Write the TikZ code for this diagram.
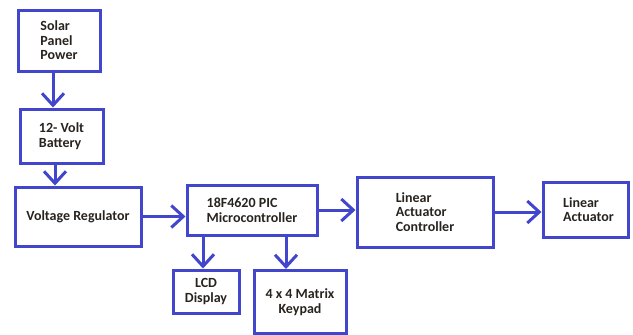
\documentclass[tikz,border=0pt]{standalone}
\usepackage{fontspec}
\setmainfont{Carlito}
\usetikzlibrary{arrows.meta}
\definecolor{boxblue}{RGB}{66,70,205}
\definecolor{txt}{RGB}{40,35,30}
\tikzset{
  blk/.style={draw=boxblue, line width=3pt, rectangle, inner sep=0pt,
    font=\fontsize{14}{14.5}\selectfont\bfseries, text=txt, align=left},
  arr/.style={draw=boxblue, line width=3pt, -{Straight Barb[length=12pt,width=22pt]}}
}
\begin{document}
\begin{tikzpicture}[x=1pt,y=-1pt]
\useasboundingbox (0,0) rectangle (633,335);
\node[blk, minimum width=82pt, minimum height=61pt] (solar) at (59,40.5) {Solar\\Panel\\Power};
\node[blk, minimum width=83pt, minimum height=54pt] (batt) at (61.5,136) {12- Volt\\Battery};
\node[blk, minimum width=126pt, minimum height=59pt] (vr) at (78,216.5) {Voltage Regulator};
\node[blk, minimum width=130pt, minimum height=50pt] (mcu) at (252,210) {18F4620 PIC\\Microcontroller};
\node[blk, minimum width=66pt, minimum height=43pt, align=center] (lcd) at (206,291.5) {LCD\\Display};
\node[blk, minimum width=92pt, minimum height=63pt, align=center] (kp) at (300,302) {4 x 4 Matrix\\Keypad};
\node[blk, minimum width=136pt, minimum height=70pt] (lac) at (425,212) {Linear\\Actuator\\Controller};
\node[blk, minimum width=85pt, minimum height=55pt] (la) at (585.5,209.5) {\hspace*{6pt}Linear\\\hspace*{6pt}Actuator};
\draw[arr] ([xshift=-6pt]solar.south) -- ([xshift=-6pt]solar.south |- batt.north);
\draw[arr] ([xshift=-6.5pt]batt.south) -- ([xshift=-6.5pt]batt.south |- vr.north);
\draw[arr] (vr.east) -- (vr.east -| mcu.west);
\draw[arr] ([xshift=-3pt]lcd.north |- mcu.south) -- ([xshift=-3pt]lcd.north);
\draw[arr] ([xshift=-14pt]kp.north |- mcu.south) -- ([xshift=-14pt]kp.north);
\draw[arr] (mcu.east) -- (mcu.east -| lac.west);
\draw[arr] (lac.east) -- (lac.east -| la.west);
\end{tikzpicture}
\end{document}
